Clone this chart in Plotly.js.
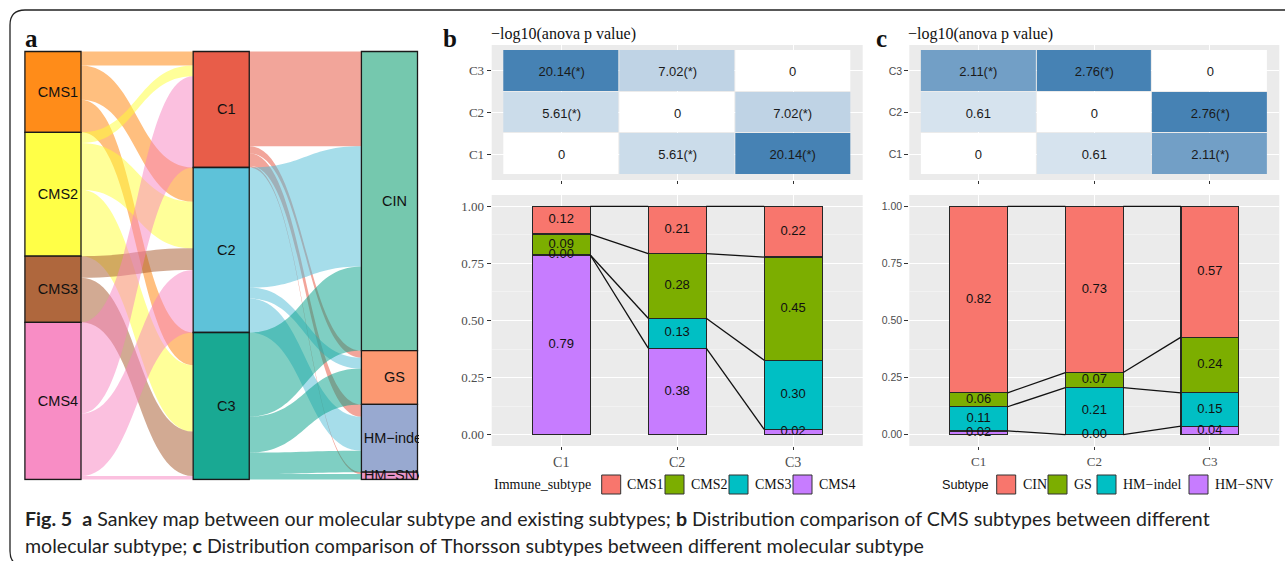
<!DOCTYPE html>
<html><head><meta charset="utf-8">
<script src="https://cdn.plot.ly/plotly-3.0.1.min.js"></script>
<style>html,body{margin:0;padding:0;background:#fff;overflow:hidden}#chart{width:1285px;height:561px}</style>
</head><body><div id="chart"></div>
<script>
// ---------------- data ----------------
const clusters = ['C1', 'C2', 'C3'];
const clusterSize = [116, 165, 147];
const cmsNames = ['CMS1', 'CMS2', 'CMS3', 'CMS4'];
const thorNames = ['CIN', 'GS', 'HM-indel', 'HM-SNV'];
// share of each CMS subtype within C1, C2, C3
const cmsShareC1 = [0.121, 0.092, 0.000, 0.787];
const cmsShareC2 = [0.207, 0.283, 0.131, 0.379];
const cmsShareC3 = [0.222, 0.452, 0.303, 0.023];
// share of each Thorsson subtype within C1, C2, C3
const thorShareC1 = [0.817, 0.061, 0.106, 0.016];
const thorShareC2 = [0.728, 0.066, 0.206, 0.000];
const thorShareC3 = [0.573, 0.244, 0.146, 0.037];
// -log10(anova p) matrices, rows = C1, C2, C3 (bottom to top)
const anovaCMS = [[0, 5.61, 20.14], [5.61, 0, 7.02], [20.14, 7.02, 0]];
const anovaThor = [[0, 0.61, 2.11], [0.61, 0, 2.76], [2.11, 2.76, 0]];

// ---------------- styles ----------------
const cmsNodeColors = ['#FF7F00', '#FFFF33', '#A65628', '#F781BF'];
const clusterColors = ['#E64B35', '#4DBBD5', '#00A087'];
const thorNodeColors = ['#66C2A5', '#FC8D62', '#8DA0CB', '#E78AC3'];
const barColors = ['#F8766D', '#7CAE00', '#00BFC4', '#C77CFF'];
const SERIF = 'Liberation Serif, Times New Roman, serif';
const SANS = 'Liberation Sans, Arial, sans-serif';
const CAPFONT = 'Lato, Noto Sans, sans-serif';
const W = 1285, H = 561;
const px = v => v / W, py = v => 1 - v / H;
const xd = (a, b) => [px(a), px(b)];
const yd = (top, bot) => [py(bot), py(top)];
function rgba(hex, a) {
  const n = parseInt(hex.slice(1), 16);
  return `rgba(${(n >> 16) & 255},${(n >> 8) & 255},${n & 255},${a})`;
}
const cmsShare = [cmsShareC1, cmsShareC2, cmsShareC3];
const thorShare = [thorShareC1, thorShareC2, thorShareC3];

const traces = [];
const shapes = [];
const annotations = [];

// gray ggplot panels
['x', 'x2', 'x3', 'x4'].forEach((xa, i) => {
  const ya = 'y' + (i === 0 ? '' : i + 1);
  shapes.push({type: 'rect', xref: xa + ' domain', yref: ya + ' domain', x0: 0, x1: 1, y0: 0, y1: 1,
    fillcolor: '#EBEBEB', line: {width: 0}, layer: 'below'});
});

// ---------------- heatmaps ----------------
const sig = -Math.log10(0.05);
const hmText = v => v === 0 ? '0' : v.toFixed(2) + (v > sig ? '(*)' : '');
function heat(z, xa, ya) {
  const zmax = Math.max(...z.flat());
  traces.push({type: 'heatmap', x: [1, 2, 3], y: [1, 2, 3], z: z,
    text: z.map(r => r.map(hmText)), texttemplate: '%{text}',
    textfont: {family: SANS, size: 13, color: '#1a1a1a'},
    colorscale: [[0, '#FFFFFF'], [1, '#4682B4']], zmin: 0, zmax: zmax,
    showscale: false, xgap: 1, ygap: 1, xaxis: xa, yaxis: ya, hoverinfo: 'skip'});
}
heat(anovaCMS, 'x', 'y');
heat(anovaThor, 'x3', 'y3');

// ---------------- stacked bars ----------------
function bars(share, names, xa, ya) {
  const nCat = names.length;
  for (let k = nCat - 1; k >= 0; k--) {
    traces.push({type: 'bar', x: [1, 2, 3], y: share.map(r => r[k]), width: 0.5,
      marker: {color: barColors[k], line: {color: '#262626', width: 1.2}},
      xaxis: xa, yaxis: ya, hoverinfo: 'skip', name: names[k]});
  }
  // tops of each category (k=0 stacked on top)
  const top = share.map(r => r.map((v, k) => r.slice(k).reduce((a, b) => a + b, 0)));
  // connector lines
  for (let k = 0; k < nCat; k++) {
    const xs = [], ys = [];
    for (let j = 0; j < share.length - 1; j++) {
      xs.push(j + 1 + 0.25, j + 2 - 0.25, null);
      ys.push(top[j][k], top[j + 1][k], null);
    }
    traces.push({type: 'scatter', mode: 'lines', x: xs, y: ys, line: {color: '#111', width: 1.3},
      xaxis: xa, yaxis: ya, hoverinfo: 'skip'});
  }
  // labels
  const lx = [], ly = [], lt = [];
  share.forEach((r, j) => r.forEach((v, k) => {
    lx.push(j + 1); ly.push(top[j][k] - v / 2); lt.push(v.toFixed(2));
  }));
  traces.push({type: 'scatter', mode: 'text', x: lx, y: ly, text: lt,
    textfont: {family: SANS, size: 13, color: '#111'}, xaxis: xa, yaxis: ya, hoverinfo: 'skip', cliponaxis: false});
}
bars(cmsShare, cmsNames, 'x2', 'y2');
bars(thorShare, thorNames, 'x4', 'y4');

// ---------------- alluvial (panel a) ----------------
const hw = 1 / 6;
const leftFlow = cmsNames.map((_, k) => clusters.map((_, j) => cmsShare[j][k] * clusterSize[j]));
const rightFlow = clusters.map((_, j) => thorNames.map((_, m) => thorShare[j][m] * clusterSize[j]));
const cmsSize = leftFlow.map(r => r.reduce((a, b) => a + b, 0));
const thorSize = thorNames.map((_, m) => rightFlow.reduce((a, r) => a + r[m], 0));
const cum = arr => arr.map((_, i) => arr.slice(0, i).reduce((a, b) => a + b, 0));
const cmsTop = cum(cmsSize), cTop = cum(clusterSize), tTop = cum(thorSize);
const N = clusterSize.reduce((a, b) => a + b, 0);

function flowPath(xa0, a0, xb0, b0, h) {
  const xm = (xa0 + xb0) / 2;
  return `M${xa0},${a0} C${xm},${a0} ${xm},${b0} ${xb0},${b0} L${xb0},${b0 + h} C${xm},${b0 + h} ${xm},${a0 + h} ${xa0},${a0 + h} Z`;
}
// CMS -> cluster flows
cmsNames.forEach((_, k) => clusters.forEach((_, j) => {
  const h = leftFlow[k][j];
  if (h <= 0) return;
  const a0 = cmsTop[k] + leftFlow[k].slice(0, j).reduce((a, b) => a + b, 0);
  let b0 = cTop[j];
  for (let kk = 0; kk < k; kk++) b0 += leftFlow[kk][j];
  shapes.push({type: 'path', xref: 'x5', yref: 'y5', path: flowPath(1 + hw, a0, 2 - hw, b0, h),
    fillcolor: rgba(cmsNodeColors[k], 0.5), line: {width: 0}, layer: 'below'});
}));
// cluster -> Thorsson flows
clusters.forEach((_, j) => thorNames.forEach((_, m) => {
  const h = rightFlow[j][m];
  if (h <= 0) return;
  const a0 = cTop[j] + rightFlow[j].slice(0, m).reduce((a, b) => a + b, 0);
  let b0 = tTop[m];
  for (let jj = 0; jj < j; jj++) b0 += rightFlow[jj][m];
  shapes.push({type: 'path', xref: 'x5', yref: 'y5', path: flowPath(2 + hw, a0, 3 - hw, b0, h),
    fillcolor: rgba(clusterColors[j], 0.5), line: {width: 0}, layer: 'below'});
}));
// nodes
const nodeCols = [
  {x: 1, names: cmsNames, size: cmsSize, top: cmsTop, colors: cmsNodeColors},
  {x: 2, names: clusters, size: clusterSize, top: cTop, colors: clusterColors},
  {x: 3, names: thorNames, size: thorSize, top: tTop, colors: thorNodeColors}
];
const nx = [], ny = [], nt = [];
nodeCols.forEach(col => col.names.forEach((nm, i) => {
  shapes.push({type: 'rect', xref: 'x5', yref: 'y5', x0: col.x - hw, x1: col.x + hw,
    y0: col.top[i], y1: col.top[i] + col.size[i], fillcolor: rgba(col.colors[i], 0.9),
    line: {color: '#1a1a1a', width: 1.3}, layer: 'below'});
  nx.push(col.x + 0.03); ny.push(col.top[i] + col.size[i] / 2 + 1); nt.push(nm.replace('-', '\u2212'));
}));
traces.push({type: 'scatter', mode: 'text', x: nx, y: ny, text: nt, cliponaxis: true,
  textfont: {family: SANS, size: 14.5, color: '#111'}, xaxis: 'x5', yaxis: 'y5', hoverinfo: 'skip'});

// ---------------- manual legends ----------------
function legend(title, titleFont, names, titleX, boxX, labelGap) {
  annotations.push({xref: 'paper', yref: 'paper', x: px(titleX), y: py(484.5), xanchor: 'left', yanchor: 'middle',
    text: title, showarrow: false, font: titleFont, borderpad: 0});
  names.forEach((nm, i) => {
    shapes.push({type: 'rect', xref: 'paper', yref: 'paper', x0: px(boxX[i]), x1: px(boxX[i] + 19),
      y0: py(494), y1: py(475), fillcolor: barColors[i], line: {color: '#333', width: 1}});
    annotations.push({xref: 'paper', yref: 'paper', x: px(boxX[i] + 19 + labelGap), y: py(484.5), xanchor: 'left', yanchor: 'middle',
      text: nm.replace('-', '\u2212'), showarrow: false, font: {family: SERIF, size: 14, color: '#111'}, borderpad: 0});
  });
}
legend('Immune_subtype', {family: SERIF, size: 14, color: '#111'}, cmsNames, 493, [601.7, 665, 729, 793], 5.5);
legend('Subtype', {family: SANS, size: 12.7, color: '#111'}, thorNames, 941, [996.7, 1048, 1097, 1189], 6);

// ---------------- text ----------------
const txt = (x, y, text, font, xanchor) => annotations.push({xref: 'paper', yref: 'paper', x: px(x), y: py(y),
  xanchor: xanchor || 'left', yanchor: 'middle', text: text, showarrow: false, font: font, borderpad: 0});
const letterFont = {family: SERIF, size: 25, color: '#111', weight: 'bold'};
txt(24, 38, '<b>a</b>', letterFont);
txt(442, 38, '<b>b</b>', letterFont);
txt(875, 38, '<b>c</b>', letterFont);
const titleFont = {family: SERIF, size: 16, color: '#111'};
txt(490, 34, '\u2212log10(anova p value)', titleFont);
txt(907, 34, '\u2212log10(anova p value)', titleFont);
const capFont = {family: CAPFONT, size: 19.6, color: '#222'};
txt(24, 518, '<b>Fig. 5</b>\u00A0\u00A0<b>a</b> Sankey map between our molecular subtype and existing subtypes; <b>b</b> Distribution comparison of CMS subtypes between different', capFont);
txt(24, 545, 'molecular subtype; <b>c</b> Distribution comparison of Thorsson subtypes between different molecular subtype', capFont);

// outer rounded frame
shapes.push({type: 'path', xref: 'paper', yref: 'paper',
  path: `M${px(1300)},${py(10)} L${px(25)},${py(10)} Q${px(10)},${py(10)} ${px(10)},${py(25)} L${px(10)},${py(551)} Q${px(10)},${py(566)} ${px(25)},${py(566)} L${px(1300)},${py(566)}`,
  line: {color: '#222', width: 1.3}, fillcolor: 'rgba(0,0,0,0)'});

// ---------------- axes ----------------
const tickGray = '#4D4D4D';
function catX(domain, anchor, showLabels, fontSize) {
  return {domain: domain, anchor: anchor, range: [0.4, 3.6], tickvals: [1, 2, 3], ticktext: clusters,
    showticklabels: showLabels, ticks: 'outside', ticklen: 3, tickwidth: 1, tickcolor: '#333',
    tickfont: {family: SERIF, size: fontSize, color: tickGray}, showgrid: true, gridcolor: '#FFFFFF', gridwidth: 1.1,
    zeroline: false, showline: false, fixedrange: true};
}
function heatY(domain, anchor, font) {
  return {domain: domain, anchor: anchor, range: [0.38, 3.62], tickvals: [1, 2, 3], ticktext: clusters,
    ticks: 'outside', ticklen: 4, tickwidth: 1, tickcolor: '#333', tickfont: font,
    showgrid: true, gridcolor: '#FFFFFF', gridwidth: 1.1, zeroline: false, showline: false, fixedrange: true};
}
function barY(domain, anchor, font) {
  return {domain: domain, anchor: anchor, range: [-0.05, 1.05], tickvals: [0, 0.25, 0.5, 0.75, 1], tickformat: '.2f',
    ticks: 'outside', ticklen: 4, tickwidth: 1, tickcolor: '#333', tickfont: font,
    showgrid: true, gridcolor: '#FFFFFF', gridwidth: 1.1, zeroline: false, showline: false, fixedrange: true,
    minor: {tickvals: [0.125, 0.375, 0.625, 0.875], showgrid: true, gridcolor: '#F7F7F7', gridwidth: 0.6, ticks: ''}};
}
const layout = {
  width: W, height: H, margin: {l: 0, r: 0, t: 0, b: 0}, paper_bgcolor: '#FFFFFF', plot_bgcolor: 'rgba(0,0,0,0)',
  showlegend: false, barmode: 'stack', font: {family: SANS},
  xaxis: catX(xd(491.7, 862.7), 'y', false, 14),
  yaxis: heatY(yd(45, 180), 'x', {family: SERIF, size: 13, color: tickGray}),
  xaxis2: catX(xd(491.7, 862.7), 'y2', true, 14),
  yaxis2: barY(yd(195, 446), 'x2', {family: SERIF, size: 13, color: tickGray}),
  xaxis3: catX(xd(909.3, 1279.3), 'y3', false, 13),
  yaxis3: heatY(yd(45, 180), 'x3', {family: SANS, size: 10.5, color: tickGray}),
  xaxis4: catX(xd(909.3, 1279.3), 'y4', true, 13),
  yaxis4: barY(yd(195, 446), 'x4', {family: SANS, size: 10.5, color: tickGray}),
  xaxis5: {domain: xd(23, 419), anchor: 'y5', range: [1 - 30 / 168.5, 3 + hw + 1.5 / 168.5], showgrid: false, zeroline: false,
    showline: false, showticklabels: false, ticks: '', fixedrange: true},
  yaxis5: {domain: yd(49.5, 480.5), anchor: 'x5', range: [N + 1, -2], showgrid: false, zeroline: false,
    showline: false, showticklabels: false, ticks: '', fixedrange: true},
  shapes: shapes, annotations: annotations
};
Plotly.newPlot('chart', traces, layout, {staticPlot: true, displayModeBar: false});
</script></body></html>
